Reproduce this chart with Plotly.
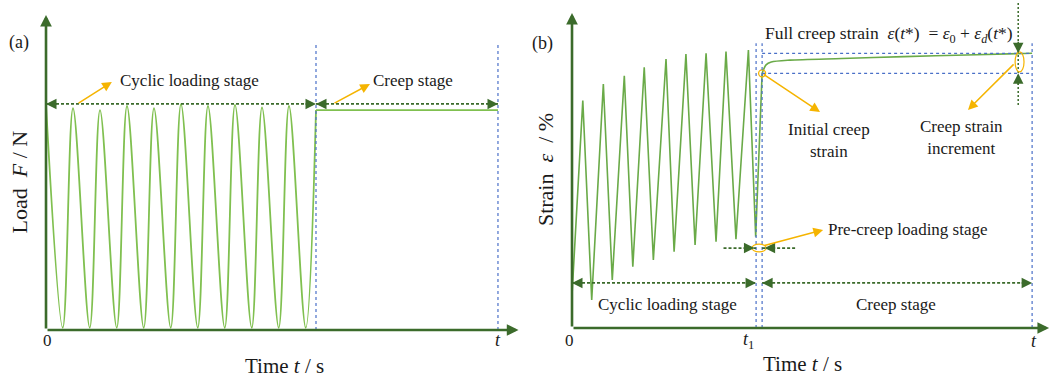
import plotly.graph_objects as go

# ---------------- Panel (a): load vs time ----------------
a_peak_t = [0, 1, 2, 3, 4, 5, 6, 7, 8, 9]
a_peak_F = [0.996, 0.981, 0.973, 0.991, 0.981, 0.999, 0.991, 0.996, 0.985, 0.991]
a_trough_t = [0.62, 1.62, 2.62, 3.62, 4.62, 5.62, 6.62, 7.62, 8.62, 9.62]
a_trough_F = [0.01, 0.01, 0.01, 0.01, 0.01, 0.01, 0.01, 0.01, 0.01, 0.01]
a_t1 = 10.0
a_t_end = 16.74
a_creep_F = 0.973
a_stage_level = 1.0

# ---------------- Panel (b): strain vs time ----------------
b_start_t, b_start_eps = 0.0, 0.12
b_peak_t = [0.52, 1.51, 2.52, 3.48, 4.53, 5.49, 6.46, 7.42, 8.50]
b_peak_eps = [0.828, 0.888, 0.918, 0.949, 0.979, 0.997, 1.000, 1.006, 1.012]
b_trough_t = [0.95, 1.94, 2.93, 3.92, 4.92, 5.93, 6.94, 7.90, 8.85]
b_trough_eps = [0.102, 0.175, 0.223, 0.248, 0.278, 0.302, 0.314, 0.323, 0.332]
b_t1 = 8.87
b_creep_start = 9.16
b_t_end = 22.17
b_t_star = 21.5
b_creep_t = [9.16, 9.35, 9.6, 10.5, 13.0, 16.0, 19.0, 22.17]
b_creep_eps = [0.927, 0.958, 0.968, 0.975, 0.981, 0.988, 0.994, 1.000]
b_eps0 = 0.927
b_eps_full = 1.0
b_cyc_level = 0.164
b_pre_level = 0.291

AX = "#3b6b2b"
CURVE_A = "#80c050"
CURVE_B = "#6aaa48"
BLUE = "#4a70c8"
ORANGE = "#f5b400"
FONT = "Liberation Serif"
TXT = "#1a1a1a"

fig = go.Figure()

# cyclic load curve (a)
ta, Fa = [], []
for tp, fp, tt, ft in zip(a_peak_t, a_peak_F, a_trough_t, a_trough_F):
    ta += [tp, tt]
    Fa += [fp, ft]
ta.append(a_t1)
Fa.append(a_creep_F)
fig.add_trace(go.Scatter(x=ta, y=Fa, mode="lines", line=dict(color=CURVE_A, width=1.8, shape="spline", smoothing=1.0),
                         xaxis="x", yaxis="y", hoverinfo="skip"))
fig.add_trace(go.Scatter(x=[a_t1, a_t_end], y=[a_creep_F, a_creep_F], mode="lines",
                         line=dict(color=CURVE_A, width=1.8), xaxis="x", yaxis="y", hoverinfo="skip"))

# strain curve (b)
tb, eb = [b_start_t], [b_start_eps]
for tp, ep, tt, et in zip(b_peak_t, b_peak_eps, b_trough_t, b_trough_eps):
    tb += [tp, tt]
    eb += [ep, et]
fig.add_trace(go.Scatter(x=tb + [b_creep_t[0]], y=eb + [b_creep_eps[0]], mode="lines",
                         line=dict(color=CURVE_B, width=1.6), xaxis="x2", yaxis="y2", hoverinfo="skip"))
fig.add_trace(go.Scatter(x=b_creep_t, y=b_creep_eps, mode="lines",
                         line=dict(color=CURVE_B, width=1.6, shape="spline", smoothing=0.8),
                         xaxis="x2", yaxis="y2", hoverinfo="skip"))
# initial creep strain marker
fig.add_trace(go.Scatter(x=[b_creep_start], y=[b_eps0], mode="markers",
                         marker=dict(symbol="circle-open", size=7, color=ORANGE, line=dict(width=1.3)),
                         xaxis="x2", yaxis="y2", hoverinfo="skip"))

shapes = []
annotations = []


def vline(xref, yref, x, y0, y1, color=BLUE, width=1.2, dash="dot"):
    shapes.append(dict(type="line", xref=xref, yref=yref, x0=x, x1=x, y0=y0, y1=y1,
                       line=dict(color=color, width=width, dash=dash)))


def hline(xref, yref, y, x0, x1, color=AX, width=1.8, dash="3px,2px"):
    shapes.append(dict(type="line", xref=xref, yref=yref, x0=x0, x1=x1, y0=y, y1=y,
                       line=dict(color=color, width=width, dash=dash)))


def head(xref, yref, x, y, ax, ay):
    annotations.append(dict(xref=xref, yref=yref, x=x, y=y, ax=ax, ay=ay, text="", showarrow=True,
                            arrowhead=2, arrowsize=1.4, arrowwidth=1.5, arrowcolor=AX, standoff=0))


def axis_arrow(xref, yref, x0, y0, x1, y1):
    annotations.append(dict(xref=xref, yref=yref, axref=xref, ayref=yref, x=x1, y=y1, ax=x0, ay=y0,
                            text="", showarrow=True, arrowhead=2, arrowsize=0.9, arrowwidth=2.6,
                            arrowcolor=AX, standoff=0))


def orange(xref, yref, x0, y0, x1, y1):
    annotations.append(dict(xref=xref, yref=yref, axref=xref, ayref=yref, x=x1, y=y1, ax=x0, ay=y0,
                            text="", showarrow=True, arrowhead=2, arrowsize=1.3, arrowwidth=1.5,
                            arrowcolor=ORANGE, standoff=0))


def text(xref, yref, x, y, s, size=17, angle=0):
    annotations.append(dict(xref=xref, yref=yref, x=x, y=y, text=s, showarrow=False, textangle=angle,
                            font=dict(family=FONT, size=size, color=TXT), xanchor="center", yanchor="middle"))


# ---------- panel (a) decorations ----------
vline("x", "y", a_t1, 0, 1.27)
vline("x", "y", a_t_end, 0, 1.27)
hline("x", "y", a_stage_level, 0, a_t1)
hline("x", "y", a_stage_level, a_t1, a_t_end)
head("x", "y", 0, a_stage_level, 12, 0)
head("x", "y", a_t1, a_stage_level, -12, 0)
head("x", "y", a_t1, a_stage_level, 12, 0)
head("x", "y", a_t_end, a_stage_level, -12, 0)
axis_arrow("x", "y", 0, 0, 17.5, 0)
axis_arrow("x", "y", 0, 0, 0, 1.394)
orange("x", "y", 1.15, a_stage_level, 2.44, 1.097)
orange("x", "y", 10.63, a_stage_level, 12.0, 1.088)
text("x", "y", 5.33, 1.106, "Cyclic loading stage")
text("x", "y", 13.6, 1.106, "Creep stage")
text("x", "y", -1.0, 1.27, "(a)", size=18)
text("x", "y", 0.07, -0.046, "0", size=17)
text("x", "y", a_t_end, -0.046, "<i>t</i>", size=18)
text("x", "y", 8.85, -0.158, "Time <i>t</i> / s", size=21)
text("x", "y", -0.98, 0.655, "Load  <i>F</i> / N", size=22, angle=-90)

# ---------- panel (b) decorations ----------
vline("x2", "y2", b_t1, 0, 1.037)
vline("x2", "y2", b_creep_start, 0, 1.037)
vline("x2", "y2", b_t_end, 0, 1.037)
hline("x2", "y2", b_eps_full, b_creep_start, b_t_end, color=BLUE, width=1.2, dash="dot")
hline("x2", "y2", b_eps0, b_creep_start, b_t_end, color=BLUE, width=1.2, dash="dot")
hline("x2", "y2", b_cyc_level, 0, b_t1)
hline("x2", "y2", b_cyc_level, b_creep_start, b_t_end)
head("x2", "y2", 0, b_cyc_level, 12, 0)
head("x2", "y2", b_t1, b_cyc_level, -12, 0)
head("x2", "y2", b_creep_start, b_cyc_level, 12, 0)
head("x2", "y2", b_t_end, b_cyc_level, -12, 0)
# pre-creep loading stage
hline("x2", "y2", b_pre_level, 7.3, b_t1)
hline("x2", "y2", b_pre_level, b_creep_start, 10.8)
head("x2", "y2", b_t1 - 0.08, b_pre_level, -12, 0)
head("x2", "y2", b_creep_start + 0.12, b_pre_level, 12, 0)
shapes.append(dict(type="circle", xref="x2", yref="y2", x0=b_t1 - 0.2, x1=b_creep_start + 0.2,
                   y0=b_pre_level - 0.014, y1=b_pre_level + 0.014, line=dict(color=ORANGE, width=1.2)))
# creep strain increment measure
shapes.append(dict(type="line", xref="x2", yref="y2", x0=b_t_star, x1=b_t_star, y0=1.183, y1=0.805,
                   line=dict(color=AX, width=1.5, dash="2px,2px")))
head("x2", "y2", b_t_star, b_eps_full, 0, -13)
head("x2", "y2", b_t_star, b_eps0, 0, 13)
shapes.append(dict(type="circle", xref="x2", yref="y2", x0=b_t_star - 0.15, x1=b_t_star + 0.28,
                   y0=b_eps0 + 0.005, y1=b_eps_full + 0.005, line=dict(color=ORANGE, width=1.2)))
axis_arrow("x2", "y2", 0, 0, 22.99, 0)
axis_arrow("x2", "y2", 0, 0, 0, 1.147)
orange("x2", "y2", 9.2, 0.2985, 12.1, 0.357)
orange("x2", "y2", b_creep_start, b_eps0, 11.95, 0.786)
orange("x2", "y2", 21.35, 0.965, 19.08, 0.794)
text("x2", "y2", 4.58, 0.084, "Cyclic loading stage")
text("x2", "y2", 15.6, 0.084, "Creep stage")
text("x2", "y2", 16.2, 0.357, "Pre-creep loading stage")
text("x2", "y2", 12.4, 0.684, "Initial creep<br>strain")
text("x2", "y2", 18.75, 0.695, "Creep strain<br>increment")
text("x2", "y2", 15.28, 1.07,
     "Full creep strain  <i>ε</i>(<i>t</i>*)  = <i>ε</i><sub>0</sub> + <i>ε</i><sub><i>d</i></sub>(<i>t</i>*)", size=17.5)
text("x2", "y2", -1.4, 1.037, "(b)", size=18)
text("x2", "y2", -1.3, 0.575, "Strain  <i>ε</i>  / %", size=22, angle=-90)
text("x2", "y2", -0.1, -0.046, "0", size=17)
text("x2", "y2", 8.48, -0.046, "<i>t</i><sub>1</sub>", size=18)
text("x2", "y2", 22.27, -0.046, "<i>t</i>", size=18)
text("x2", "y2", 11.13, -0.13, "Time <i>t</i> / s", size=21)

fig.update_layout(
    width=1051, height=379,
    margin=dict(l=0, r=0, t=0, b=0),
    paper_bgcolor="white", plot_bgcolor="white",
    showlegend=False,
    xaxis=dict(domain=[0, 520 / 1051], range=[-1.704, 17.556], visible=False),
    yaxis=dict(domain=[0, 1], range=[-0.2168, 1.460], visible=False, anchor="x"),
    xaxis2=dict(domain=[530 / 1051, 1], range=[-2.024, 23.08], visible=False, anchor="y2"),
    yaxis2=dict(domain=[0, 1], range=[-0.1857, 1.194], visible=False, anchor="x2"),
    shapes=shapes,
    annotations=annotations,
)

fig.write_html("out.html", config={"displayModeBar": False},
               post_script="document.body.style.margin='0';document.body.style.overflow='hidden';")
